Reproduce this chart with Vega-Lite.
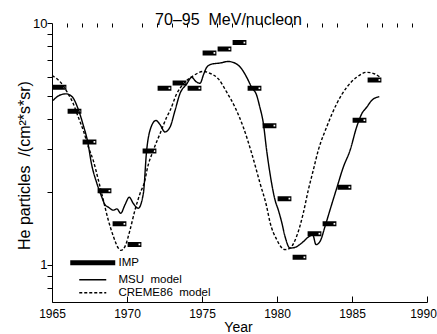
{
  "$schema": "https://vega.github.io/schema/vega-lite/v6.json",
  "width": 375,
  "height": 279,
  "autosize": {"type": "none"},
  "padding": {"left": 52, "top": 23, "right": 10, "bottom": 32},
  "background": "white",
  "config": {
    "view": {"stroke": null},
    "font": "Liberation Sans",
    "axis": {"grid": false, "domainColor": "black", "tickColor": "black", "labelColor": "black", "titleColor": "black", "labelFont": "Liberation Sans", "titleFont": "Liberation Sans", "titleFontWeight": "normal", "domainWidth": 1, "tickWidth": 1}
  },
  "title": {"text": "70–95\u00a0\u00a0MeV/nucleon", "fontSize": 16, "fontWeight": "normal", "font": "Liberation Sans", "color": "black", "anchor": "middle", "dx": -11, "offset": -11},
  "datasets": {
    "imp": [
      {"start": 1965.04, "end": 1965.96, "flux": 5.42, "series": "IMP"},
      {"start": 1966.04, "end": 1966.96, "flux": 4.31, "series": "IMP"},
      {"start": 1967.04, "end": 1967.96, "flux": 3.22, "series": "IMP"},
      {"start": 1968.04, "end": 1968.96, "flux": 2.02, "series": "IMP"},
      {"start": 1969.04, "end": 1969.96, "flux": 1.475, "series": "IMP"},
      {"start": 1970.04, "end": 1970.96, "flux": 1.212, "series": "IMP"},
      {"start": 1971.04, "end": 1971.96, "flux": 2.95, "series": "IMP"},
      {"start": 1972.04, "end": 1972.96, "flux": 5.37, "series": "IMP"},
      {"start": 1973.04, "end": 1973.96, "flux": 5.65, "series": "IMP"},
      {"start": 1974.04, "end": 1974.96, "flux": 5.37, "series": "IMP"},
      {"start": 1975.04, "end": 1975.96, "flux": 7.52, "series": "IMP"},
      {"start": 1976.04, "end": 1976.96, "flux": 7.8, "series": "IMP"},
      {"start": 1977.04, "end": 1977.96, "flux": 8.3, "series": "IMP"},
      {"start": 1978.04, "end": 1978.96, "flux": 5.37, "series": "IMP"},
      {"start": 1979.04, "end": 1979.96, "flux": 3.76, "series": "IMP"},
      {"start": 1980.04, "end": 1980.96, "flux": 1.875, "series": "IMP"},
      {"start": 1981.04, "end": 1981.96, "flux": 1.072, "series": "IMP"},
      {"start": 1982.04, "end": 1982.96, "flux": 1.342, "series": "IMP"},
      {"start": 1983.04, "end": 1983.96, "flux": 1.475, "series": "IMP"},
      {"start": 1984.04, "end": 1984.96, "flux": 2.09, "series": "IMP"},
      {"start": 1985.04, "end": 1985.96, "flux": 3.96, "series": "IMP"},
      {"start": 1986.04, "end": 1986.96, "flux": 5.81, "series": "IMP"}
    ],
    "models": [
      {"year": 1965.07, "flux": 4.78, "series": "MSU\u00a0\u00a0model"},
      {"year": 1965.47, "flux": 5.01, "series": "MSU\u00a0\u00a0model"},
      {"year": 1965.93, "flux": 5.09, "series": "MSU\u00a0\u00a0model"},
      {"year": 1966.33, "flux": 4.96, "series": "MSU\u00a0\u00a0model"},
      {"year": 1966.73, "flux": 4.43, "series": "MSU\u00a0\u00a0model"},
      {"year": 1967.07, "flux": 3.8, "series": "MSU\u00a0\u00a0model"},
      {"year": 1967.38, "flux": 3.22, "series": "MSU\u00a0\u00a0model"},
      {"year": 1967.65, "flux": 2.58, "series": "MSU\u00a0\u00a0model"},
      {"year": 1967.98, "flux": 2.18, "series": "MSU\u00a0\u00a0model"},
      {"year": 1968.31, "flux": 1.91, "series": "MSU\u00a0\u00a0model"},
      {"year": 1968.53, "flux": 1.77, "series": "MSU\u00a0\u00a0model"},
      {"year": 1968.75, "flux": 1.73, "series": "MSU\u00a0\u00a0model"},
      {"year": 1969.09, "flux": 1.68, "series": "MSU\u00a0\u00a0model"},
      {"year": 1969.33, "flux": 1.7, "series": "MSU\u00a0\u00a0model"},
      {"year": 1969.58, "flux": 1.63, "series": "MSU\u00a0\u00a0model"},
      {"year": 1969.87, "flux": 1.77, "series": "MSU\u00a0\u00a0model"},
      {"year": 1970.15, "flux": 1.9, "series": "MSU\u00a0\u00a0model"},
      {"year": 1970.42, "flux": 1.79, "series": "MSU\u00a0\u00a0model"},
      {"year": 1970.75, "flux": 1.71, "series": "MSU\u00a0\u00a0model"},
      {"year": 1971.09, "flux": 1.97, "series": "MSU\u00a0\u00a0model"},
      {"year": 1971.31, "flux": 2.97, "series": "MSU\u00a0\u00a0model"},
      {"year": 1971.53, "flux": 3.59, "series": "MSU\u00a0\u00a0model"},
      {"year": 1971.93, "flux": 3.95, "series": "MSU\u00a0\u00a0model"},
      {"year": 1972.2, "flux": 3.8, "series": "MSU\u00a0\u00a0model"},
      {"year": 1972.53, "flux": 3.54, "series": "MSU\u00a0\u00a0model"},
      {"year": 1972.87, "flux": 3.71, "series": "MSU\u00a0\u00a0model"},
      {"year": 1973.2, "flux": 4.34, "series": "MSU\u00a0\u00a0model"},
      {"year": 1973.53, "flux": 5.1, "series": "MSU\u00a0\u00a0model"},
      {"year": 1973.98, "flux": 5.59, "series": "MSU\u00a0\u00a0model"},
      {"year": 1974.31, "flux": 5.96, "series": "MSU\u00a0\u00a0model"},
      {"year": 1974.6, "flux": 5.72, "series": "MSU\u00a0\u00a0model"},
      {"year": 1974.87, "flux": 5.63, "series": "MSU\u00a0\u00a0model"},
      {"year": 1975.1, "flux": 6.11, "series": "MSU\u00a0\u00a0model"},
      {"year": 1975.31, "flux": 6.55, "series": "MSU\u00a0\u00a0model"},
      {"year": 1975.65, "flux": 6.76, "series": "MSU\u00a0\u00a0model"},
      {"year": 1976.2, "flux": 6.83, "series": "MSU\u00a0\u00a0model"},
      {"year": 1976.75, "flux": 6.93, "series": "MSU\u00a0\u00a0model"},
      {"year": 1977.31, "flux": 6.76, "series": "MSU\u00a0\u00a0model"},
      {"year": 1977.65, "flux": 6.45, "series": "MSU\u00a0\u00a0model"},
      {"year": 1977.98, "flux": 5.96, "series": "MSU\u00a0\u00a0model"},
      {"year": 1978.31, "flux": 5.42, "series": "MSU\u00a0\u00a0model"},
      {"year": 1978.65, "flux": 5.01, "series": "MSU\u00a0\u00a0model"},
      {"year": 1978.83, "flux": 4.55, "series": "MSU\u00a0\u00a0model"},
      {"year": 1979.09, "flux": 3.84, "series": "MSU\u00a0\u00a0model"},
      {"year": 1979.31, "flux": 2.97, "series": "MSU\u00a0\u00a0model"},
      {"year": 1979.53, "flux": 2.39, "series": "MSU\u00a0\u00a0model"},
      {"year": 1979.87, "flux": 1.85, "series": "MSU\u00a0\u00a0model"},
      {"year": 1980.09, "flux": 1.68, "series": "MSU\u00a0\u00a0model"},
      {"year": 1980.31, "flux": 1.5, "series": "MSU\u00a0\u00a0model"},
      {"year": 1980.53, "flux": 1.31, "series": "MSU\u00a0\u00a0model"},
      {"year": 1980.87, "flux": 1.17, "series": "MSU\u00a0\u00a0model"},
      {"year": 1981.2, "flux": 1.178, "series": "MSU\u00a0\u00a0model"},
      {"year": 1981.65, "flux": 1.228, "series": "MSU\u00a0\u00a0model"},
      {"year": 1982.09, "flux": 1.3, "series": "MSU\u00a0\u00a0model"},
      {"year": 1982.38, "flux": 1.329, "series": "MSU\u00a0\u00a0model"},
      {"year": 1982.6, "flux": 1.209, "series": "MSU\u00a0\u00a0model"},
      {"year": 1982.87, "flux": 1.247, "series": "MSU\u00a0\u00a0model"},
      {"year": 1983.2, "flux": 1.437, "series": "MSU\u00a0\u00a0model"},
      {"year": 1983.53, "flux": 1.68, "series": "MSU\u00a0\u00a0model"},
      {"year": 1983.98, "flux": 2.07, "series": "MSU\u00a0\u00a0model"},
      {"year": 1984.42, "flux": 2.53, "series": "MSU\u00a0\u00a0model"},
      {"year": 1984.87, "flux": 2.97, "series": "MSU\u00a0\u00a0model"},
      {"year": 1985.31, "flux": 3.71, "series": "MSU\u00a0\u00a0model"},
      {"year": 1985.65, "flux": 4.21, "series": "MSU\u00a0\u00a0model"},
      {"year": 1985.98, "flux": 4.48, "series": "MSU\u00a0\u00a0model"},
      {"year": 1986.31, "flux": 4.78, "series": "MSU\u00a0\u00a0model"},
      {"year": 1986.82, "flux": 4.96, "series": "MSU\u00a0\u00a0model"},
      {"year": 1965.0, "flux": 6.05, "series": "CREME86\u00a0\u00a0model"},
      {"year": 1965.33, "flux": 5.88, "series": "CREME86\u00a0\u00a0model"},
      {"year": 1965.75, "flux": 5.5, "series": "CREME86\u00a0\u00a0model"},
      {"year": 1966.07, "flux": 5.1, "series": "CREME86\u00a0\u00a0model"},
      {"year": 1966.42, "flux": 4.63, "series": "CREME86\u00a0\u00a0model"},
      {"year": 1966.75, "flux": 4.08, "series": "CREME86\u00a0\u00a0model"},
      {"year": 1967.09, "flux": 3.59, "series": "CREME86\u00a0\u00a0model"},
      {"year": 1967.42, "flux": 3.07, "series": "CREME86\u00a0\u00a0model"},
      {"year": 1967.75, "flux": 2.7, "series": "CREME86\u00a0\u00a0model"},
      {"year": 1968.09, "flux": 2.24, "series": "CREME86\u00a0\u00a0model"},
      {"year": 1968.42, "flux": 1.85, "series": "CREME86\u00a0\u00a0model"},
      {"year": 1968.75, "flux": 1.53, "series": "CREME86\u00a0\u00a0model"},
      {"year": 1969.09, "flux": 1.31, "series": "CREME86\u00a0\u00a0model"},
      {"year": 1969.42, "flux": 1.17, "series": "CREME86\u00a0\u00a0model"},
      {"year": 1969.6, "flux": 1.145, "series": "CREME86\u00a0\u00a0model"},
      {"year": 1969.87, "flux": 1.19, "series": "CREME86\u00a0\u00a0model"},
      {"year": 1970.2, "flux": 1.39, "series": "CREME86\u00a0\u00a0model"},
      {"year": 1970.53, "flux": 1.68, "series": "CREME86\u00a0\u00a0model"},
      {"year": 1970.87, "flux": 1.97, "series": "CREME86\u00a0\u00a0model"},
      {"year": 1971.2, "flux": 2.24, "series": "CREME86\u00a0\u00a0model"},
      {"year": 1971.33, "flux": 2.46, "series": "CREME86\u00a0\u00a0model"},
      {"year": 1971.75, "flux": 2.97, "series": "CREME86\u00a0\u00a0model"},
      {"year": 1972.2, "flux": 3.48, "series": "CREME86\u00a0\u00a0model"},
      {"year": 1972.65, "flux": 4.08, "series": "CREME86\u00a0\u00a0model"},
      {"year": 1972.87, "flux": 4.34, "series": "CREME86\u00a0\u00a0model"},
      {"year": 1973.31, "flux": 5.09, "series": "CREME86\u00a0\u00a0model"},
      {"year": 1973.75, "flux": 5.59, "series": "CREME86\u00a0\u00a0model"},
      {"year": 1974.42, "flux": 6.05, "series": "CREME86\u00a0\u00a0model"},
      {"year": 1975.09, "flux": 6.3, "series": "CREME86\u00a0\u00a0model"},
      {"year": 1975.53, "flux": 6.19, "series": "CREME86\u00a0\u00a0model"},
      {"year": 1976.09, "flux": 5.87, "series": "CREME86\u00a0\u00a0model"},
      {"year": 1976.65, "flux": 5.17, "series": "CREME86\u00a0\u00a0model"},
      {"year": 1977.2, "flux": 4.48, "series": "CREME86\u00a0\u00a0model"},
      {"year": 1977.75, "flux": 3.71, "series": "CREME86\u00a0\u00a0model"},
      {"year": 1978.31, "flux": 2.89, "series": "CREME86\u00a0\u00a0model"},
      {"year": 1978.87, "flux": 2.17, "series": "CREME86\u00a0\u00a0model"},
      {"year": 1979.31, "flux": 1.74, "series": "CREME86\u00a0\u00a0model"},
      {"year": 1979.53, "flux": 1.5, "series": "CREME86\u00a0\u00a0model"},
      {"year": 1979.98, "flux": 1.27, "series": "CREME86\u00a0\u00a0model"},
      {"year": 1980.53, "flux": 1.153, "series": "CREME86\u00a0\u00a0model"},
      {"year": 1980.87, "flux": 1.17, "series": "CREME86\u00a0\u00a0model"},
      {"year": 1981.31, "flux": 1.31, "series": "CREME86\u00a0\u00a0model"},
      {"year": 1981.75, "flux": 1.63, "series": "CREME86\u00a0\u00a0model"},
      {"year": 1982.09, "flux": 2.04, "series": "CREME86\u00a0\u00a0model"},
      {"year": 1982.42, "flux": 2.46, "series": "CREME86\u00a0\u00a0model"},
      {"year": 1982.75, "flux": 2.97, "series": "CREME86\u00a0\u00a0model"},
      {"year": 1983.31, "flux": 3.71, "series": "CREME86\u00a0\u00a0model"},
      {"year": 1983.98, "flux": 4.63, "series": "CREME86\u00a0\u00a0model"},
      {"year": 1984.65, "flux": 5.42, "series": "CREME86\u00a0\u00a0model"},
      {"year": 1985.31, "flux": 5.96, "series": "CREME86\u00a0\u00a0model"},
      {"year": 1985.98, "flux": 6.25, "series": "CREME86\u00a0\u00a0model"},
      {"year": 1986.53, "flux": 6.15, "series": "CREME86\u00a0\u00a0model"},
      {"year": 1986.87, "flux": 5.96, "series": "CREME86\u00a0\u00a0model"}
    ]
  },
  "resolve": {"axis": {"x": "independent", "y": "independent"}},
  "layer": [
    {
      "data": {"name": "imp"},
      "mark": {"type": "rule", "strokeWidth": 5, "strokeCap": "butt", "color": "black"},
      "encoding": {
        "x": {"field": "start", "type": "quantitative", "scale": {"domain": [1965, 1990], "nice": false, "zero": false},
          "axis": {"values": [1965, 1970, 1975, 1980, 1985, 1990], "format": "d", "tickSize": -6, "labelFontSize": 12, "labelPadding": 12, "labelFlush": false, "labelOverlap": false, "title": "Year", "titleFontSize": 14, "titleX": 186, "titleY": 29, "titleBaseline": "alphabetic", "titleAnchor": null,
            "labelOffset": {"condition": {"test": "datum.value === 1990", "value": -4}, "value": 0}}},
        "x2": {"field": "end"},
        "y": {"field": "flux", "type": "quantitative", "scale": {"type": "log", "domain": [0.7, 10], "nice": false},
          "axis": {"values": [0.8, 0.9, 1, 2, 3, 4, 5, 6, 7, 8, 9, 10], "labelExpr": "datum.value === 1 ? '1' : (datum.value === 10 ? '10' : '')", "tickSize": 5, "labelPadding": 0, "labelFontSize": 13, "labelOverlap": false, "labelFlush": false, "title": "He particles\u00a0\u00a0/(cm²*s*sr)", "titleFontSize": 16, "titleX": -28, "titleY": 142, "titleAngle": -90, "titleBaseline": "middle", "titleAlign": "center"}},
        "strokeDash": {"field": "series", "type": "nominal",
          "scale": {"domain": ["IMP", "MSU\u00a0\u00a0model", "CREME86\u00a0\u00a0model"], "range": [[1, 0], [1, 0], [3, 2]]},
          "legend": {"title": null, "orient": "none", "legendX": 35, "legendY": 234, "symbolType": "stroke", "symbolSize": 36, "symbolStrokeWidth": 1.5, "symbolStrokeColor": "black", "labelFontSize": 11.5, "labelOffset": 20, "labelColor": "black", "labelFont": "Liberation Sans", "rowPadding": 0, "padding": 0,
            "encode": {"symbols": {"update": {"strokeWidth": {"signal": "datum.value === 'IMP' ? 5 : 1.5"}, "size": {"signal": "datum.value === 'IMP' ? 2025 : 729"}}}}}}
      }
    },
    {
      "data": {"name": "imp"},
      "mark": {"type": "point", "shape": "square", "filled": true, "color": "white", "size": 3, "xOffset": -2, "opacity": 1},
      "encoding": {
        "x": {"field": "end", "type": "quantitative", "axis": {"values": [1966, 1967, 1968, 1969, 1971, 1972, 1973, 1974, 1976, 1977, 1978, 1979, 1981, 1982, 1983, 1984, 1986, 1987, 1988, 1989], "tickSize": -4, "labels": false, "domain": false, "title": null}},
        "y": {"field": "flux", "type": "quantitative", "axis": null}
      }
    },
    {
      "data": {"name": "models"},
      "mark": {"type": "line", "color": "black", "strokeWidth": 1.4, "interpolate": "monotone"},
      "encoding": {
        "x": {"field": "year", "type": "quantitative", "axis": null},
        "y": {"field": "flux", "type": "quantitative", "axis": null},
        "strokeDash": {"field": "series", "type": "nominal"}
      }
    }
  ]
}
